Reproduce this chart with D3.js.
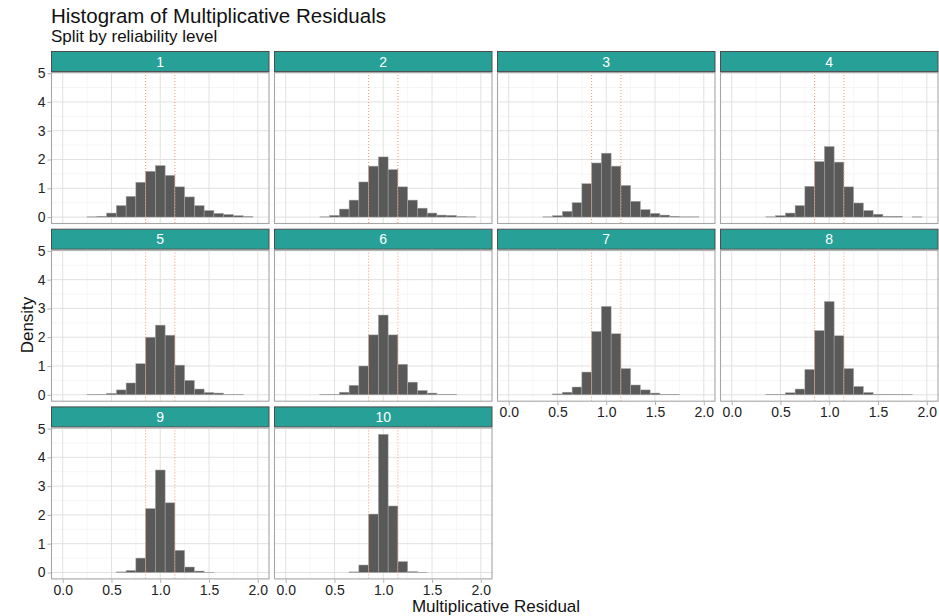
<!DOCTYPE html>
<html>
<head>
<meta charset="utf-8">
<script src="https://cdn.jsdelivr.net/npm/d3@7"></script>
<style>
  body { margin: 0; background: #fff; }
  svg { display: block; font-family: "Liberation Sans", Arial, sans-serif; }
</style>
</head>
<body>
<svg id="chart"></svg>
<script>
// Histogram bins (centres, width 0.1) shared by every panel
const binCenters = [0.3, 0.4, 0.5, 0.6, 0.7, 0.8, 0.9, 1.0, 1.1, 1.2, 1.3, 1.4, 1.5, 1.6, 1.7, 1.8, 1.9]
const binWidth = 0.1

// Reliability levels (facet labels)
const levels = ["1", "2", "3", "4", "5", "6", "7", "8", "9", "10"]

// Density per bin, one array per level (null = no bar)
const density1  = [0.01, 0.03, 0.14, 0.40, 0.72, 1.21, 1.59, 1.79, 1.45, 1.05, 0.70, 0.40, 0.23, 0.13, 0.09, 0.05, 0.02]
const density2  = [null, 0.01, 0.06, 0.28, 0.59, 1.22, 1.77, 2.09, 1.65, 1.05, 0.59, 0.31, 0.14, 0.07, 0.06, 0.02, 0.01]
const density3  = [null, 0.01, 0.05, 0.20, 0.50, 1.16, 1.88, 2.22, 1.77, 1.10, 0.55, 0.26, 0.13, 0.07, 0.03, 0.01, 0.01]
const density4  = [null, 0.01, 0.05, 0.14, 0.40, 1.07, 1.93, 2.45, 1.91, 1.05, 0.49, 0.23, 0.10, 0.03, 0.03, null, 0.01]
const density5  = [0.01, 0.01, 0.05, 0.17, 0.41, 1.08, 2.00, 2.42, 2.07, 1.03, 0.50, 0.20, 0.08, 0.06, 0.01, 0.01, null]
const density6  = [null, 0.01, 0.01, 0.09, 0.33, 1.00, 2.08, 2.77, 2.08, 1.06, 0.44, 0.15, 0.06, 0.02, 0.02, null, null]
const density7  = [null, null, 0.03, 0.09, 0.27, 0.79, 2.20, 3.07, 2.12, 0.91, 0.34, 0.17, 0.06, 0.02, 0.01, null, null]
const density8  = [null, 0.01, 0.01, 0.07, 0.20, 0.88, 2.23, 3.24, 2.05, 0.91, 0.29, 0.08, 0.02, 0.02, 0.01, 0.01, null]
const density9  = [null, null, null, 0.02, 0.07, 0.50, 2.22, 3.56, 2.42, 0.77, 0.19, 0.05, 0.01, null, null, null, null]
const density10 = [null, null, null, null, 0.02, 0.26, 2.03, 4.80, 2.31, 0.38, 0.03, 0.01, null, null, null, null, null]
const densities = [density1, density2, density3, density4, density5, density6, density7, density8, density9, density10]

// Reference lines (dotted)
const refLines = [0.85, 1.15]

// Axis ticks
const xTicks = [0, 0.5, 1, 1.5, 2]
const xMinor = [0.25, 0.75, 1.25, 1.75]
const yTicks = [0, 1, 2, 3, 4, 5]
const yMinor = [0.5, 1.5, 2.5, 3.5, 4.5]

const width = 939
const height = 616
const nCols = 4
const marginLeft = 51
const marginTop = 51
const colPitch = 223
const rowPitch = 177.7
const panelW = 218.5
const stripH = 21
const panelH = 152

const svg = d3.select("#chart")
  .attr("width", width)
  .attr("height", height)

const x = d3.scaleLinear().domain([-0.12, 2.12]).range([0, panelW])
const y = d3.scaleLinear().domain([-0.24, 5.04]).range([panelH, 0])

renderTitles(svg)
levels.forEach((level, i) => renderPanel(svg, level, densities[i], i))

function renderTitles(svg) {
  svg.append("text")
    .attr("x", marginLeft)
    .attr("y", 23)
    .attr("font-size", 20.5)
    .attr("fill", "#111")
    .text("Histogram of Multiplicative Residuals")

  svg.append("text")
    .attr("x", marginLeft)
    .attr("y", 41.5)
    .attr("font-size", 17)
    .attr("fill", "#111")
    .text("Split by reliability level")

  svg.append("text")
    .attr("transform", `translate(33, 325) rotate(-90)`)
    .attr("text-anchor", "middle")
    .attr("font-size", 17)
    .attr("fill", "#111")
    .text("Density")

  svg.append("text")
    .attr("x", 496)
    .attr("y", 612)
    .attr("text-anchor", "middle")
    .attr("font-size", 17)
    .attr("fill", "#111")
    .text("Multiplicative Residual")
}

function renderPanel(svg, level, values, i) {
  const col = i % nCols
  const row = Math.floor(i / nCols)
  const g = svg.append("g")
    .attr("transform", `translate(${marginLeft + col * colPitch}, ${marginTop + row * rowPitch})`)

  // Strip
  g.append("rect")
    .attr("x", 0.5)
    .attr("y", 0.5)
    .attr("width", panelW - 1)
    .attr("height", stripH - 1)
    .attr("fill", "#27a197")
    .attr("stroke", "#4d4d4d")
    .attr("stroke-width", 1)

  g.append("text")
    .attr("x", panelW / 2)
    .attr("y", stripH / 2 + 5)
    .attr("text-anchor", "middle")
    .attr("font-size", 14)
    .attr("fill", "#fff")
    .text(level)

  const p = g.append("g")
    .attr("transform", `translate(0, ${stripH})`)

  // Grid
  p.append("g")
    .selectAll("line")
    .data(xMinor)
    .join("line")
    .attr("x1", d => x(d)).attr("x2", d => x(d))
    .attr("y1", 0).attr("y2", panelH)
    .attr("stroke", "#f0f0f0")
    .attr("stroke-width", 0.6)

  p.append("g")
    .selectAll("line")
    .data(yMinor)
    .join("line")
    .attr("x1", 0).attr("x2", panelW)
    .attr("y1", d => y(d)).attr("y2", d => y(d))
    .attr("stroke", "#f0f0f0")
    .attr("stroke-width", 0.6)

  p.append("g")
    .selectAll("line")
    .data(xTicks)
    .join("line")
    .attr("x1", d => x(d)).attr("x2", d => x(d))
    .attr("y1", 0).attr("y2", panelH)
    .attr("stroke", "#dedede")
    .attr("stroke-width", 0.9)

  p.append("g")
    .selectAll("line")
    .data(yTicks)
    .join("line")
    .attr("x1", 0).attr("x2", panelW)
    .attr("y1", d => y(d)).attr("y2", d => y(d))
    .attr("stroke", "#dedede")
    .attr("stroke-width", 0.9)

  // Bars
  const bins = binCenters
    .map((c, k) => ({ c, v: values[k] }))
    .filter(d => d.v !== null)

  p.append("g")
    .selectAll("rect")
    .data(bins)
    .join("rect")
    .attr("x", d => x(d.c - binWidth / 2))
    .attr("width", x(binWidth) - x(0))
    .attr("y", d => y(d.v))
    .attr("height", d => y(0) - y(d.v))
    .attr("fill", "#595959")
    .attr("stroke", "#a8a8a8")
    .attr("stroke-width", 0.5)

  // Dotted reference lines
  p.append("g")
    .selectAll("line")
    .data(refLines)
    .join("line")
    .attr("x1", d => x(d)).attr("x2", d => x(d))
    .attr("y1", 0).attr("y2", panelH)
    .attr("stroke", "#f58a5e")
    .attr("stroke-width", 0.9)
    .attr("stroke-dasharray", "1,2")

  // Panel border
  p.append("rect")
    .attr("x", 0.5)
    .attr("y", 0.5)
    .attr("width", panelW - 1)
    .attr("height", panelH - 1)
    .attr("fill", "none")
    .attr("stroke", "#a6a6a6")
    .attr("stroke-width", 1.1)

  if (col === 0) renderYAxis(p)
  if (i + nCols >= levels.length) renderXAxis(p)
}

function renderYAxis(p) {
  p.append("g")
    .call(d3.axisLeft(y)
      .tickValues(yTicks)
      .tickSize(3.5)
      .tickPadding(2)
      .tickFormat(d3.format("d")))
    .call(g => g.select(".domain").remove())
    .call(g => g.selectAll(".tick line").attr("stroke", "#b3b3b3"))
    .call(g => g.selectAll(".tick text")
      .attr("font-family", "Liberation Sans, Arial, sans-serif")
      .attr("font-size", 14)
      .attr("fill", "#222"))
}

function renderXAxis(p) {
  p.append("g")
    .attr("transform", `translate(0, ${panelH})`)
    .call(d3.axisBottom(x)
      .tickValues(xTicks)
      .tickSize(3.5)
      .tickPadding(2)
      .tickFormat(d3.format(".1f")))
    .call(g => g.select(".domain").remove())
    .call(g => g.selectAll(".tick line").attr("stroke", "#b3b3b3"))
    .call(g => g.selectAll(".tick text")
      .attr("font-family", "Liberation Sans, Arial, sans-serif")
      .attr("font-size", 14)
      .attr("fill", "#222"))
}
</script>
</body>
</html>
